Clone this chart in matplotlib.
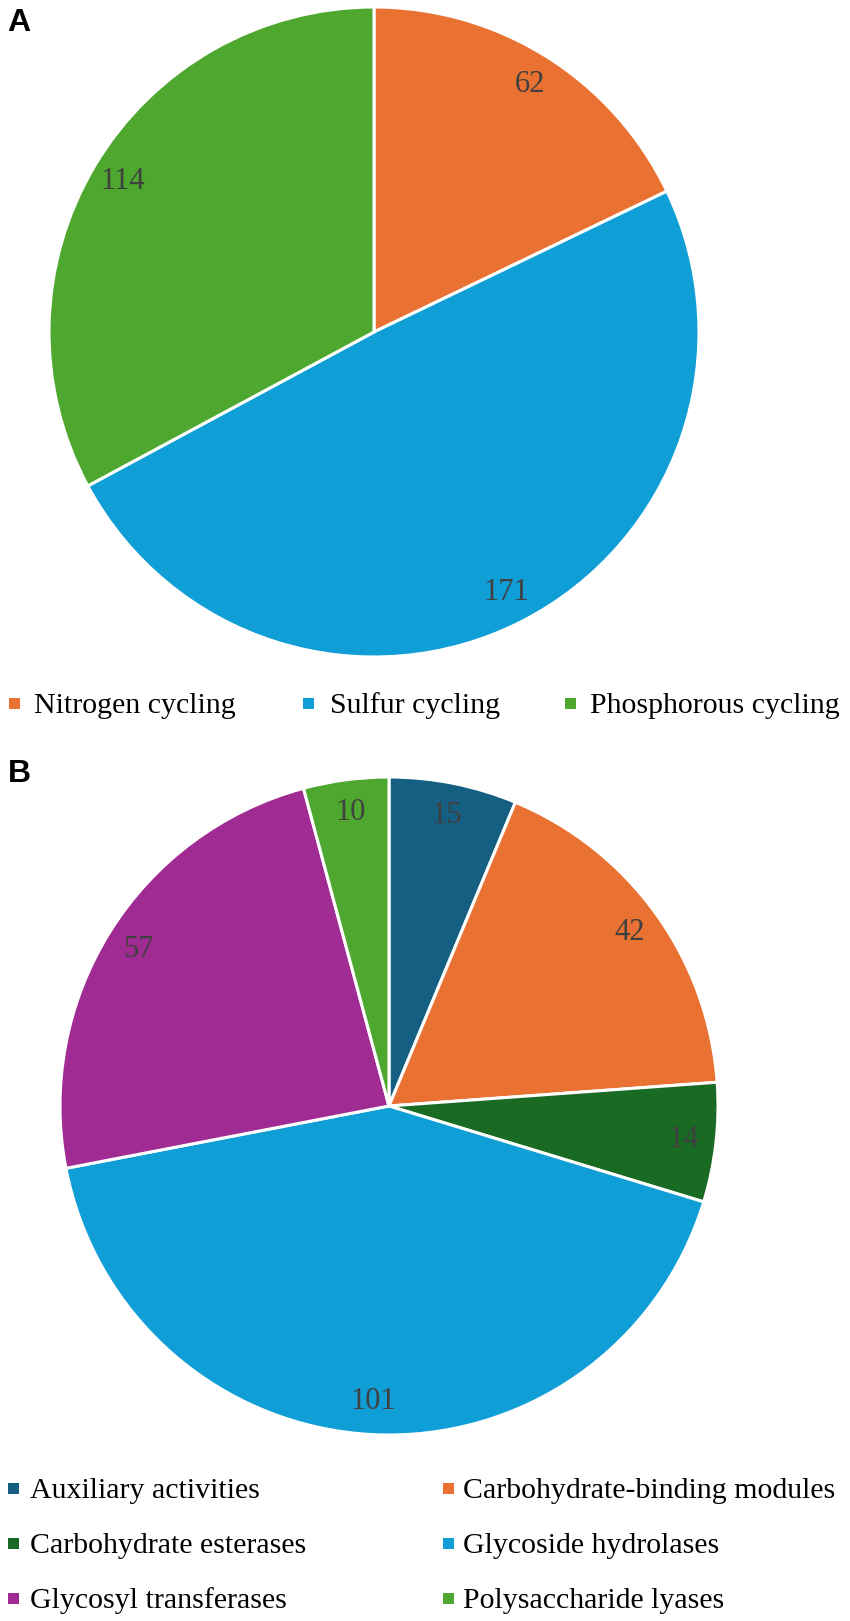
import matplotlib
matplotlib.use("Agg")
import matplotlib.pyplot as plt
from matplotlib.patches import Rectangle

# ---- data ----
cycle_labels = ["Nitrogen cycling", "Sulfur cycling", "Phosphorous cycling"]
cycle_values = [62, 171, 114]
cycle_colors = ["#E97132", "#0F9ED5", "#4EA72E"]

cazy_labels = ["Auxiliary activities", "Carbohydrate-binding modules",
               "Carbohydrate esterases", "Glycoside hydrolases",
               "Glycosyl transferases", "Polysaccharide lyases"]
cazy_values = [15, 42, 14, 101, 57, 10]
cazy_colors = ["#156082", "#E97132", "#196B24", "#0F9ED5", "#A02B93", "#4EA72E"]

W, H = 850, 1621
DPI = 100
fig = plt.figure(figsize=(W / DPI, H / DPI), dpi=DPI)
fig.patch.set_facecolor("white")

SERIF = ["Liberation Serif", "DejaVu Serif"]
SANS = ["Liberation Sans", "DejaVu Sans"]


def px_axes(cx, cy, r):
    return fig.add_axes([(cx - r) / W, (H - (cy + r)) / H, 2 * r / W, 2 * r / H])


def draw_pie(ax, values, colors):
    total = sum(values)
    wedges, texts, autotexts = ax.pie(
        values, colors=colors, startangle=90, counterclock=False,
        autopct=lambda p: f"{round(p * total / 100)}", pctdistance=0.9,
        wedgeprops=dict(edgecolor="white", linewidth=2.2),
        textprops=dict(family=SERIF, fontsize=22, color="#404040"))
    ax.set_xlim(-1, 1)
    ax.set_ylim(-1, 1)
    ax.set_aspect("equal")
    ax.axis("off")
    return wedges


def legend_item(x_marker, x_text, baseline, color, label):
    size = 11
    fig.patches.append(Rectangle(((x_marker - size / 2) / W, (H - (baseline - 4)) / H),
                                 size / W, size / H, transform=fig.transFigure,
                                 facecolor=color, edgecolor="none"))
    fig.text(x_text / W, (H - baseline) / H, label, family=SERIF, fontsize=21.5,
             color="black", ha="left", va="baseline")


# ---- panel A ----
axA = px_axes(374, 332, 325)
draw_pie(axA, cycle_values, cycle_colors)
fig.text(7 / W, (H - 31) / H, "A", family=SANS, fontweight="bold", fontsize=23,
         ha="left", va="baseline")
a_marker_x = [14, 308, 570]
a_text_x = [34, 330, 590]
for lab, col, mx, tx in zip(cycle_labels, cycle_colors, a_marker_x, a_text_x):
    legend_item(mx, tx, 713, col, lab)

# ---- panel B ----
axB = px_axes(389, 1106, 329)
draw_pie(axB, cazy_values, cazy_colors)
fig.text(8 / W, (H - 782) / H, "B", family=SANS, fontweight="bold", fontsize=23,
         ha="left", va="baseline")
b_cols = [(13, 30), (448, 463)]
b_rows = [1498, 1553, 1608]
for i, (lab, col) in enumerate(zip(cazy_labels, cazy_colors)):
    mx, tx = b_cols[i % 2]
    legend_item(mx, tx, b_rows[i // 2], col, lab)

fig.savefig("out.png", dpi=DPI, facecolor="white")
